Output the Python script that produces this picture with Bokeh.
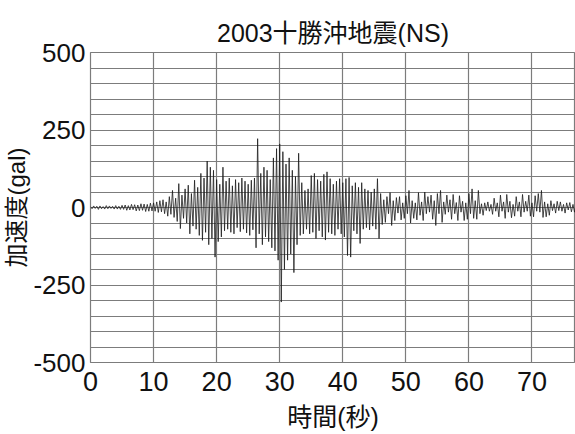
from bokeh.plotting import figure
from bokeh.models import Range1d, FixedTicker, SingleIntervalTicker
from bokeh.embed import file_html
from bokeh.resources import INLINE

# ---- data ----
title_text = "2003十勝沖地震(NS)"
x_label = "時間(秒)"
y_label = "加速度(gal)"
x_ticks = [0, 10, 20, 30, 40, 50, 60, 70]
y_ticks = [-500, -250, 0, 250, 500]
y_tick_labels = ["-500", "-250", "0", "250", "500"]
dt = 0.25  # sampling interval of the read-off trace (s)

# acceleration peaks (gal), one line per 5 s
acc = [
    3, -4, 5, -3, 4, -6, 5, -4, 3, -5, 6, -4, 5, -3, 4, -5, 6, -5, 4, -6,
    7, -6, 8, -9, 6, -8, 10, -7, 9, -11, 8, -10, 12, -9, 11, -13, 10, -12, 14, -11,
    15, -12, 18, -16, 22, -14, 25, -20, 18, -28, 35, -22, 55, -32, 30, -45, 77, -68, 40, -35,
    60, -50, 72, -85, 45, -60, 88, -70, 65, -90, 110, -106, 95, -80, 150, -120, 130, -100, 120, -160,
    90, -110, 75, -95, 130, -75, 85, -70, 95, -80, 70, -85, 90, -65, 80, -78, 95, -70, 85, -82,
    75, -90, 88, -72, 95, -130, 222, -85, 110, -120, 130, -95, 120, -110, 90, -130, 160, -140, 190, -170,
    205, -305, 180, -200, 140, -170, 160, -150, 120, -210, 100, -120, 175, -90, 80, -85, 55, -70, 60, -85,
    103, -80, 110, -100, 90, -75, 85, -95, 107, -105, 115, -80, 93, -85, 75, -90, 85, -70, 93, -85,
    80, -95, 93, -155, 97, -160, 70, -75, 80, -85, 65, -116, 80, -70, 60, -65, 55, -72, 50, -60,
    60, -70, 93, -100, 45, -55, 25, -48, 35, -20, 48, -58, 22, -42, 32, -18, 35, -40, 15, -35,
    38, -20, 55, -50, 22, -35, 15, -40, 48, -25, 18, -42, 50, -20, 35, -15, 40, -38, 22, -58,
    45, -20, 55, -48, 18, -22, 40, -15, 25, -38, 42, -20, 16, -42, 38, -15, 20, -42, 15, -38,
    45, -20, 60, -35, 22, -38, 55, -20, 12, -25, 15, -10, 18, -12, 10, -22, 30, -12, 15, -30,
    40, -12, 18, -35, 42, -15, 20, -33, 10, -28, 35, -12, 18, -30, 42, -15, 20, -12, 40, -28,
    15, -30, 38, -12, 45, -15, 55, -32, 18, -30, 12, -25, 22, -10, 12, -18, 20, -10, 18, -12,
    10, -18, 15, -8, 16, -14, 10, -15, 12,
]
time = [i * dt for i in range(len(acc))]

NUM_FONT = "Liberation Sans"
TXT_FONT = "'Liberation Sans', 'Noto Sans CJK JP', sans-serif"
GRID = "#7c7c7c"

p = figure(width=575, height=434, x_range=Range1d(0, 76.9), y_range=Range1d(-500, 500),
           output_backend="svg", toolbar_location=None,
           min_border_left=88, min_border_right=0, min_border_top=52, min_border_bottom=72)

p.title.text = title_text
p.title.align = "center"
p.title.text_font = TXT_FONT
p.title.text_font_size = "25px"
p.title.text_font_style = "normal"
p.title.text_color = "#111111"
p.title.standoff = 12

p.line(time, acc, line_color="#1c1c1c", line_width=0.8)

p.xaxis.ticker = FixedTicker(ticks=x_ticks)
p.yaxis.ticker = FixedTicker(ticks=y_ticks)
p.yaxis.major_label_overrides = dict(zip(y_ticks, y_tick_labels))
p.xgrid.ticker = SingleIntervalTicker(interval=10)
p.ygrid.ticker = SingleIntervalTicker(interval=50)
for g in (p.xgrid, p.ygrid):
    g.grid_line_color = GRID
    g.grid_line_width = 1.2
p.outline_line_color = GRID
p.outline_line_width = 1.2

for ax in (p.xaxis, p.yaxis):
    ax.axis_line_color = None
    ax.major_tick_line_color = None
    ax.minor_tick_line_color = None
    ax.major_tick_out = 0
    ax.major_tick_in = 0
    ax.minor_tick_out = 0
    ax.minor_tick_in = 0
    ax.major_label_text_font = NUM_FONT
    ax.major_label_text_color = "#111111"
    ax.axis_label_text_font = TXT_FONT
    ax.axis_label_text_font_style = "normal"
    ax.axis_label_text_color = "#111111"

p.xaxis.axis_label = x_label
p.xaxis.major_label_text_font_size = "27px"
p.xaxis.axis_label_text_font_size = "25px"
p.xaxis.major_label_standoff = 9
p.xaxis.axis_label_standoff = 9
p.yaxis.axis_label = y_label
p.yaxis.major_label_text_font_size = "26px"
p.yaxis.axis_label_text_font_size = "24px"
p.yaxis.major_label_standoff = 5
p.yaxis.axis_label_standoff = 0

open("out.html", "w").write(file_html(p, INLINE))
